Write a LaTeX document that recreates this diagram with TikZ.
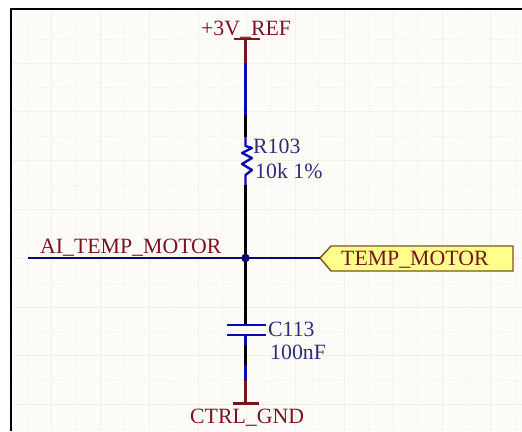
\documentclass[tikz,border=0pt]{standalone}
\usepackage{fontspec}
\setmainfont{Liberation Serif}
\usetikzlibrary{positioning}
\definecolor{sheetbg}{RGB}{254, 252, 248}
\definecolor{gridline}{RGB}{243, 240, 234}
\definecolor{netred}{RGB}{120, 20, 30}
\definecolor{pinblue}{RGB}{10, 10, 180}
\definecolor{wirenavy}{RGB}{10, 10, 110}
\definecolor{labelblue}{RGB}{45, 45, 120}
\definecolor{portyellow}{RGB}{255, 255, 140}
\definecolor{portedge}{RGB}{120, 85, 30}
\tikzset{
    netlabel/.style={color=netred, anchor=base west, inner sep=0pt, font=\fontsize{21.8}{24}\selectfont},
    partlabel/.style={color=labelblue, anchor=base west, inner sep=0pt, font=\fontsize{21.8}{24}\selectfont},
    wire/.style={color=wirenavy, line width=2.4pt},
    pinwire/.style={color=pinblue, line width=2.4pt},
    darkwire/.style={color=black, line width=2.4pt},
    railwire/.style={color=netred, line width=2.4pt}
}
\begin{document}
\begin{tikzpicture}[x=1pt, y=-1pt]
            \useasboundingbox (0, 0) rectangle (522, 431);
            \fill[sheetbg] (12, 10) rectangle (522, 431);
            \foreach \i in {0,...,9}
                \draw[gridline, line width=0.8pt] (51.5+48.8*\i, 10) -- (51.5+48.8*\i, 431);
            \foreach \i in {0,...,7}
                \draw[gridline, line width=0.8pt] (12, 63+48.8*\i) -- (522, 63+48.8*\i);
            \foreach \i in {0,...,10}
                \draw[gridline, line width=0.8pt, dotted] (27+48.8*\i, 10) -- (27+48.8*\i, 431);
            \foreach \i in {0,...,8}
                \draw[gridline, line width=0.8pt, dotted] (12, 39+48.8*\i) -- (522, 39+48.8*\i);
            \draw[black, line width=2.8pt] (11, 431) -- (11, 9) -- (522, 9);

            % net labels
            \node[netlabel] (ref) at (201, 35) {+3V\_REF};
            \node[netlabel] (ai) at (40, 253) {AI\_TEMP\_MOTOR};
            \node[netlabel] (gnd) at (190, 423) {CTRL\_GND};
            \node[partlabel] (rname) at (253, 153) {R103};
            \node[partlabel] (rvalue) at (255, 178) {10k 1\%};
            \node[partlabel] (cname) at (268, 336) {C113};
            \node[partlabel] (cvalue) at (270, 359) {100nF};

            % points along the vertical net
            \coordinate (reftop) at (245.5, 39);
            \coordinate (refend) at (245.5, 63);
            \coordinate (pintop) at (245.5, 115);
            \coordinate (rtop) at (245.5, 137);
            \coordinate (rbot) at (245.5, 185);
            \coordinate (junction) at (245.5, 258);
            \coordinate (ctop) at (245.5, 325);
            \coordinate (cbot) at (245.5, 335);
            \coordinate (cpin) at (245.5, 345);
            \coordinate (cpinend) at (245.5, 365);
            \coordinate (gndend) at (245.5, 380);
            \coordinate (gndbar) at (245.5, 403.5);
            \coordinate (wireleft) at (28, 258);
            \coordinate (porttip) at (320, 258);

            % port
            \filldraw[portedge, fill=portyellow, line width=1.4pt] (porttip) -- (331, 246) -- (513, 246)
                -- (513, 271) -- (331, 271) -- cycle;
            \node[netlabel] (port) at (341, 265) {TEMP\_MOTOR};

            % wires
            \draw[wire] (wireleft) -- (junction);
            \draw[wire] (junction) -- (porttip);
            \draw[railwire] (reftop) -- (refend);
            \draw[pinwire] (refend) -- (pintop);
            \draw[darkwire] (pintop) -- (rtop);
            \draw[darkwire] (rbot) -- (junction);
            \draw[darkwire] (junction) -- (ctop);
            \draw[pinwire] (cbot) -- (cpin);
            \draw[darkwire] (cpin) -- (cpinend);
            \draw[pinwire] (cpinend) -- (gndend);
            \draw[railwire] (gndend) -- (gndbar);

            % power bars
            \draw[railwire] (234, 39) -- (260, 39);
            \draw[railwire] (233, 403.5) -- (259, 403.5);

            % resistor
            \draw[pinwire, line join=round] (rtop) -- (245.5, 146) -- (252, 148) -- (242, 153) -- (252, 158)
                -- (242, 164) -- (252, 170) -- (245.5, 175) -- (rbot);

            % capacitor
            \draw[pinwire] (227, 325) -- (266, 325);
            \draw[pinwire] (227, 335) -- (266, 335);
            \filldraw[wirenavy] (junction) circle (4pt);
        \end{tikzpicture}
\end{document}
